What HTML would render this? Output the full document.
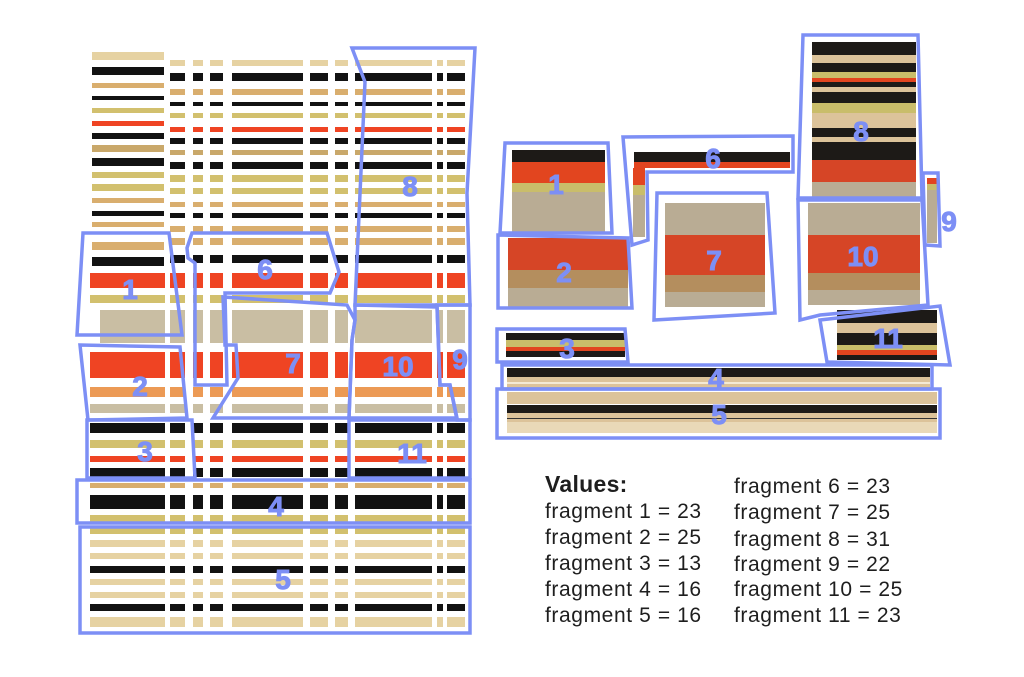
<!DOCTYPE html>
<html><head><meta charset="utf-8"><style>
html,body{margin:0;padding:0;background:#fff}
svg{display:block}
.t{font-family:"Liberation Sans",sans-serif;font-size:21px;letter-spacing:0.6px;fill:#1e1e1e}
.n{font-family:"Liberation Sans",sans-serif;font-weight:bold;font-size:28px;fill:#7d8ff5;stroke:#7d8ff5;stroke-width:1;text-anchor:middle}
</style></head><body>
<svg id="s" width="1024" height="677" viewBox="0 0 1024 677" xmlns="http://www.w3.org/2000/svg">
<g id="left"></g>
<g id="right"></g>
<g id="outl" fill="none" stroke="#7d8ff5" stroke-width="3.5" stroke-linejoin="miter"></g>
<g id="nums"></g>
<text class="t" x="545" y="492" style="font-weight:bold;font-size:23px;letter-spacing:0.3px">Values:</text>
<text class="t" x="545" y="518">fragment 1 = 23</text>
<text class="t" x="545" y="544">fragment 2 = 25</text>
<text class="t" x="545" y="570">fragment 3 = 13</text>
<text class="t" x="545" y="596">fragment 4 = 16</text>
<text class="t" x="545" y="622">fragment 5 = 16</text>
<text class="t" x="734" y="493">fragment 6 = 23</text>
<text class="t" x="734" y="519">fragment 7 = 25</text>
<text class="t" x="734" y="546">fragment 8 = 31</text>
<text class="t" x="734" y="571">fragment 9 = 22</text>
<text class="t" x="734" y="596">fragment 10 = 25</text>
<text class="t" x="734" y="622">fragment 11 = 23</text>
</svg>
<script>
var NS="http://www.w3.org/2000/svg";
function el(p,tag,a,txt){var e=document.createElementNS(NS,tag);for(var k in a)e.setAttribute(k,a[k]);if(txt)e.textContent=txt;document.getElementById(p).appendChild(e);return e;}
function R(p,x,y,w,h,c){el(p,'rect',{x:x,y:y,width:w,height:h,fill:c});}
var C={lt:'#e6d2a2',bk:'#121212',tan:'#d9ae6e',kh:'#d2c06e',red:'#ef4423',br:'#c9a86a',gr:'#c9bea3',or:'#ec9a55'};
var S=[[170,185],[193,203],[210,223],[232,303],[310,328],[335,348],[355,432],[437,443],[447,465]];
var up=[['lt',52,8,60,6],['bk',67,8,73,8],['tan',83,5,89,6],['bk',96,4,102,4],['kh',108,5,113,5],['red',121,5,127,5],['bk',133,6,138,6],['br',145,7,150,5],['bk',158,8,162,7],['kh',172,6,175,7],['kh',184,7,188,6],['tan',198,5,202,5],['bk',211,5,213,5],['tan',222,5,226,6],['tan',242,8,238,7],['bk',257,9,255,8]];
up.forEach(function(r){R('left',92,r[1],72,r[2],C[r[0]]);S.forEach(function(s){R('left',s[0],r[3],s[1]-s[0],r[4],C[r[0]]);});});
var low=[['red',273,15],['kh',295,8],['gr',310,33],['red',352,26],['or',387,10],['gr',404,9],['bk',423,10],['kh',440,8],['red',456,6],['bk',468,9],['tan',483,5],['bk',495,14],['kh',515,7],['kh',528,6],['lt',540,7],['lt',553,6],['bk',566,7],['lt',579,6],['lt',592,6],['bk',604,7],['lt',617,10]];
low.forEach(function(r){var lx=r[0]=='gr'&&r[1]==310?100:90;R('left',lx,r[1],165-lx,r[2],C[r[0]]);S.forEach(function(s){R('left',s[0],r[1],s[1]-s[0],r[2],C[r[0]]);});});
function st(x,w,list){list.forEach(function(a){R('right',x,a[1],w,a[2]-a[1],a[0]);});}
var pb='#1d1a17',pr='#e2451f',pk='#c9bd6a',pg='#b9ac94',pt='#dcc39a',pbr='#b48e5e',pred2='#d64526';
st(512,93,[[pb,150,162],[pr,162,183],[pk,183,192],[pg,192,232]]);
st(508,120,[[pred2,238,270],[pbr,270,288],[pg,288,307]]);
st(634,156,[[pb,152,162],[pr,162,168]]);
st(633,12,[[pr,168,185],[pk,185,195],[pg,195,237]]);
st(665,100,[[pg,203,235],[pred2,235,275],[pbr,275,292],[pg,292,307]]);
st(812,104,[[pb,42,55],[pt,55,63],[pb,63,72],[pk,72,78],[pr,78,82],[pb,82,87],[pt,87,92],[pb,92,103],[pk,103,113],[pt,113,128],[pb,128,137],[pt,137,142],[pb,142,147],[pb,147,160],[pred2,160,182],[pg,182,198]]);
st(808,112,[[pg,203,235],[pred2,235,273],[pbr,273,290],[pg,290,305]]);
st(927,10,[[pr,178,184],[pk,184,190],[pg,190,243]]);
st(837,100,[[pb,310,323],[pt,323,333],[pb,333,345],[pk,345,350],[pr,350,355],[pb,355,360]]);
st(506,119,[[pb,333,340],[pk,340,347],[pr,347,351],[pb,351,357]]);
st(507,423,[[pb,368,377],[pt,377,382],['#f4ead4',382,384],[pt,384,388]]);
st(507,430,[[pt,392,404],[pb,405,413],[pt,413,418],['#333',418,419],[pt,419,422],['#e9d9b8',422,433]]);
var P=[
'83,233 169,233 182,335 77,335',
'192,233 327,233 339,272 330,293 225,293 227,385 195,385 195,263 188,258 187,248',
'223,297 347,305 355,320 352,340 349,418 213,418 238,378 236,345 225,345',
'352,48 475,48 467,193 470,305 355,305 365,82',
'355,305 437,307 440,385 450,385 457,418 349,418 352,340 355,320',
'437,305 470,305 470,420 457,420 450,385 440,385',
'80,345 180,347 187,418 88,420',
'87,420 192,420 195,478 87,478',
'349,420 470,420 470,478 349,478',
'77,480 470,480 470,523 77,523',
'80,527 470,527 470,633 80,633',
'505,143 608,143 612,233 500,233',
'498,235 628,238 632,308 498,308',
'623,137 793,136 793,172 647,172 648,240 632,245',
'657,193 767,193 775,313 654,320',
'803,35 918,35 922,198 798,198',
'798,200 922,200 928,305 820,315 800,320',
'923,173 938,173 940,246 925,245',
'820,320 940,306 950,365 827,362',
'497,329 625,329 628,362 497,362',
'502,365 932,365 932,389 502,389',
'497,389 940,389 940,438 497,438'];
P.forEach(function(p){el('outl','polygon',{points:p});});
var N=[['1',130,299],['6',265,279],['8',410,196],['7',293,373],['10',398,376],['9',460,369],['2',140,396],['3',145,461],['11',412,463],['4',276,516],['5',283,589],
['1',556,194],['2',564,282],['6',713,168],['7',714,270],['8',861,141],['10',863,266],['9',949,231],['11',888,348],['3',567,358],['4',716,388],['5',719,424]];
N.forEach(function(n){el('nums','text',{'class':'n',x:n[1],y:n[2]},n[0]);});
</script>
</body></html>
